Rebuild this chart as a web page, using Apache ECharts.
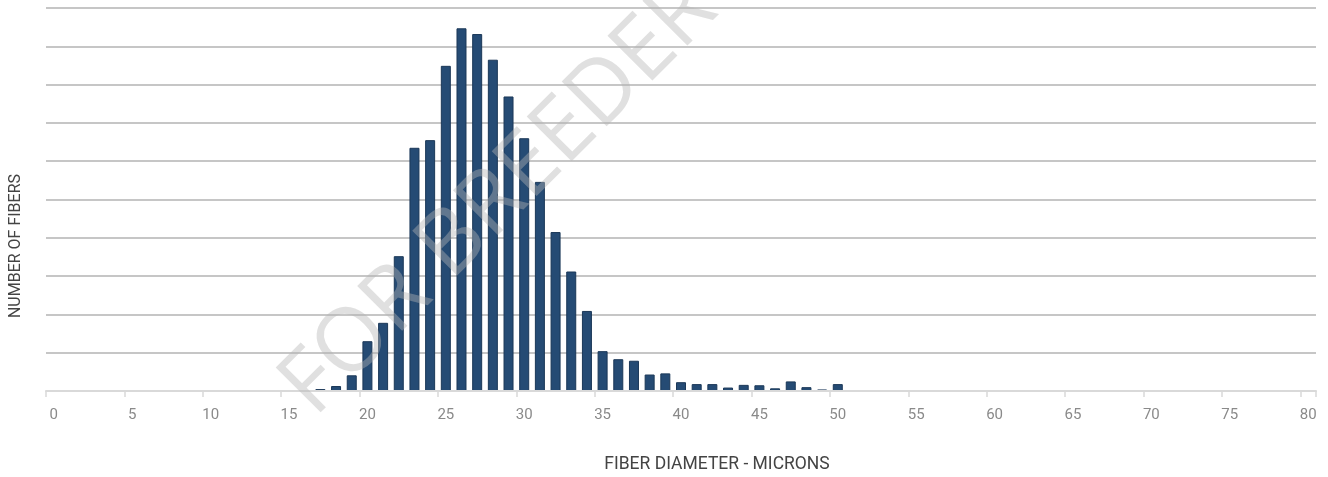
<!DOCTYPE html>
<html>
<head>
<meta charset="utf-8">
<script src="https://cdn.jsdelivr.net/npm/echarts@6/dist/echarts.min.js"></script>
<style>html,body{margin:0;padding:0;background:#fff}#c{width:1328px;height:477px}</style>
</head>
<body>
<div id="c"></div>
<script>
// Fiber diameter (microns) and relative number of fibers
const diameters = [17,18,19,20,21,22,23,24,25,26,27,28,29,30,31,32,33,34,35,36,37,38,39,40,41,42,43,44,45,46,47,48,49,50,51];
const counts    = [0.5,1.3,4.1,13.0,17.8,35.2,63.5,65.5,84.9,94.7,93.2,86.5,76.9,66.0,54.6,41.5,31.2,20.9,10.4,8.3,7.9,4.3,4.6,2.3,1.8,1.8,0.9,1.6,1.5,0.7,2.5,1.0,0.4,1.8,0.2];
const axisMin = 0, axisMax = 80;
const xTitle = 'FIBER DIAMETER - MICRONS';
const yTitle = 'NUMBER OF FIBERS';
const watermark = 'FOR BREEDER';

const categories = [];
for (let i = axisMin; i <= axisMax; i++) categories.push(String(i));
const values = categories.map(c => {
  const k = diameters.indexOf(Number(c));
  return k >= 0 ? counts[k] : null;
});

const chart = echarts.init(document.getElementById('c'));
chart.setOption({
  animation: false,
  grid: {left: 46, right: 12, top: 8, bottom: 86},
  xAxis: {
    type: 'category',
    data: categories,
    boundaryGap: true,
    z: 5,
    axisLine: {lineStyle: {color: '#d9d9d9', width: 2}},
    axisTick: {show: true, interval: 4, length: 6, lineStyle: {color: '#d9d9d9', width: 1.5}},
    axisLabel: {interval: 4, color: '#8a8a8a', fontSize: 15, margin: 17, fontFamily: 'Roboto, sans-serif'}
  },
  yAxis: {
    type: 'value',
    min: 0, max: 100, interval: 10,
    axisLabel: {show: false},
    axisLine: {show: false},
    axisTick: {show: false},
    splitLine: {lineStyle: {color: '#b3b3b3', width: 1.5}}
  },
  series: [{
    type: 'bar',
    data: values,
    barWidth: 10,
    itemStyle: {color: '#254b74', borderColor: '#1b3858', borderWidth: 1}
  }],
  graphic: [
    {
      type: 'text', x: 717, y: 465, z: 10,
      style: {text: xTitle, fill: '#444', fontSize: 17.5, fontFamily: 'Roboto, sans-serif', align: 'center', verticalAlign: 'middle'}
    },
    {
      type: 'text', x: 16, y: 246, rotation: Math.PI / 2, z: 10,
      style: {text: yTitle, fill: '#444', fontSize: 16, fontFamily: 'Roboto, sans-serif', align: 'center', verticalAlign: 'middle'}
    },
    {
      type: 'text', x: 328, y: 432, rotation: Math.PI / 4, z: 100,
      style: {text: watermark, fill: 'rgba(180,180,180,0.42)', fontSize: 89, fontWeight: 'normal', fontFamily: '"Open Sans", sans-serif', align: 'left', verticalAlign: 'bottom'}
    }
  ]
});
</script>
</body>
</html>
